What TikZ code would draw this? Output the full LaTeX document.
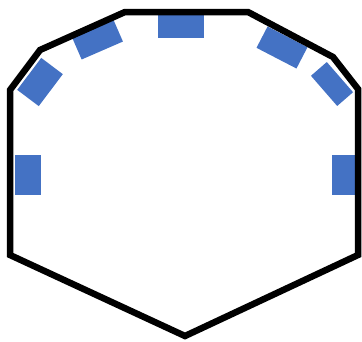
\documentclass[tikz,border=0pt]{standalone}
\usepackage{tikz}
\usetikzlibrary{positioning}

\begin{document}
\begin{tikzpicture}[x=1pt,y=-1pt]
        %
        % `pad' is used for the blue blocks along the rim.
        % `rim' is used for the outline.
        \tikzstyle{pad} = [fill={rgb,255:red,68;green,114;blue,196},inner sep=0pt,rectangle]
        \tikzstyle{rim} = [draw=black,line width=6.5pt,line join=miter]
        \useasboundingbox (0,0) rectangle (362,341);
        %
        % Pads
        \node[pad,minimum width=26,minimum height=40] (padl) at (28,175) {};
        \node[pad,minimum width=26,minimum height=40] (padr) at (345,175) {};
        \node[pad,rotate=53,minimum width=40,minimum height=27] (padtl) at (40,82) {};
        \node[pad,rotate=23.5,minimum width=45,minimum height=24] (padul) at (97.5,39.5) {};
        \node[pad,minimum width=46,minimum height=24] (padt) at (181,26) {};
        \node[pad,rotate=-27.4,minimum width=45,minimum height=24] (padur) at (282,47.5) {};
        \node[pad,rotate=-49,minimum width=40,minimum height=21] (padtr) at (332,84) {};
        %
        % Outline
        \draw[rim] (10,90) -- (40,50) -- (125,12) -- (248,12) -- (333,57) -- (358,89)
            -- (358,255) -- (185,336) -- (10,255) -- cycle;
        %
    \end{tikzpicture}
\end{document}
